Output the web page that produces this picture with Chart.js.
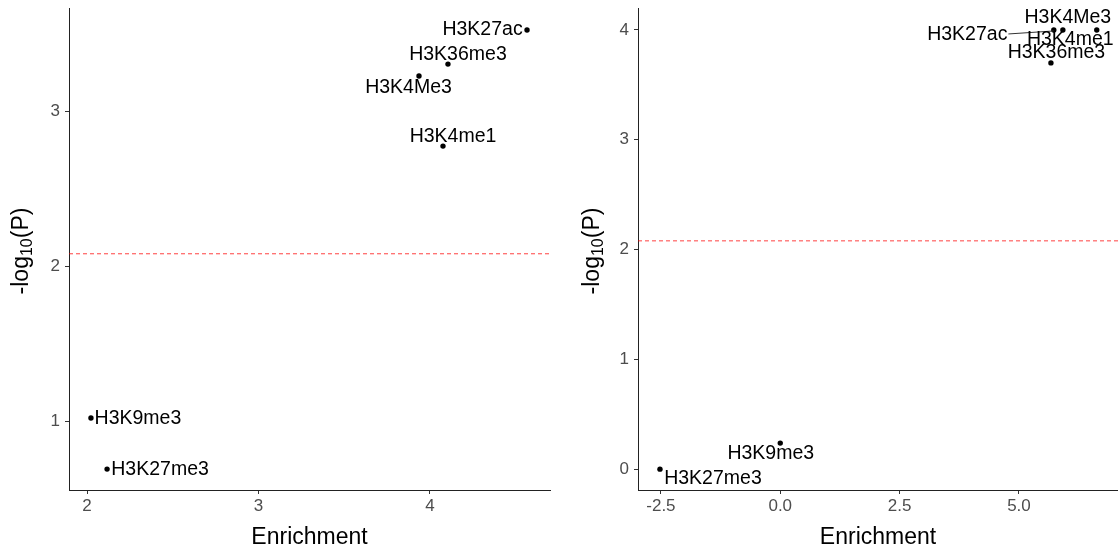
<!DOCTYPE html>
<html><head><meta charset="utf-8">
<script src="https://cdn.jsdelivr.net/npm/chart.js@4/dist/chart.umd.min.js"></script>
<style>
html,body{margin:0;padding:0;background:#fff;overflow:hidden}
#wrap{position:relative;width:1118px;height:548px}
.panel{position:absolute;top:0;width:559px;height:548px}
</style></head><body>
<div id="wrap">
<div class="panel" style="left:0"><canvas id="c1"></canvas></div>
<div class="panel" style="left:559px"><canvas id="c2"></canvas></div>
</div>
<script>
// ---- data ----
const marksLeft  = ['H3K27ac','H3K36me3','H3K4Me3','H3K4me1','H3K9me3','H3K27me3'];
const enrichLeft = [4.566, 4.105, 3.936, 4.076, 2.023, 2.117];
const logPLeft   = [3.523, 3.303, 3.226, 2.774, 1.02, 0.69];

const marksRight  = ['H3K27ac','H3K4Me3','H3K4me1','H3K36me3','H3K9me3','H3K27me3'];
const enrichRight = [5.73, 5.92, 6.63, 5.67, 0.0, -2.52];
const logPRight   = [4.0, 4.0, 4.0, 3.70, 0.237, 0.0];

const xTicksLeft  = [2, 3, 4];
const yTicksLeft  = [1, 2, 3];
const xTicksRight = [-2.5, 0, 2.5, 5];
const yTicksRight = [0, 1, 2, 3, 4];

const threshold = -Math.log10(0.05 / 6);
const xTitle = 'Enrichment';

// ---- styles ----
const FONT = '"Liberation Sans", Arial, Helvetica, sans-serif';
// label offsets (px) of text centre from point: [dx, dy, connector]
const labelOffsetsLeft  = [[-44.5,0],[10,-9],[-10.5,12],[10,-9],[47,1],[53,1]];
const labelOffsetsRight = [[-86.5,5,true],[5,-12],[-26.5,10],[5.5,-10],[-9.5,11],[53,9]];

function annotPlugin(cfg, marks){
  return {
    id:'annot',
    beforeDatasetsDraw(chart){
      const ctx = chart.ctx, a = chart.chartArea, y = chart.scales.y.getPixelForValue(threshold);
      ctx.save();
      ctx.strokeStyle = 'rgba(255,0,0,0.75)';
      ctx.lineWidth = 1;
      ctx.setLineDash([4,3]);
      ctx.beginPath(); ctx.moveTo(a.left, y); ctx.lineTo(a.right, y); ctx.stroke();
      ctx.restore();
    },
    afterDatasetsDraw(chart){
      const ctx = chart.ctx, meta = chart.getDatasetMeta(0);
      ctx.save();
      ctx.font = '19.5px ' + FONT;
      ctx.fillStyle = '#000';
      ctx.textAlign = 'center';
      ctx.textBaseline = 'middle';
      meta.data.forEach((pt, i) => {
        const o = cfg.offsets[i];
        const tx = pt.x + o[0], ty = pt.y + o[1];
        if (o[2]) {
          const w = ctx.measureText(marks[i]).width;
          ctx.strokeStyle = '#333'; ctx.lineWidth = 1;
          ctx.beginPath(); ctx.moveTo(tx + w/2 + 1, ty - 1); ctx.lineTo(pt.x, pt.y + 1); ctx.stroke();
        }
        ctx.fillText(marks[i], tx, ty);
      });
      // x title
      const a = chart.chartArea;
      ctx.font = '23px ' + FONT;
      ctx.textBaseline = 'alphabetic';
      ctx.fillText(xTitle, (a.left + a.right) / 2, 544);
      // y title with subscript
      ctx.save();
      ctx.translate(cfg.yTitleX, (a.top + a.bottom) / 2 + 2);
      ctx.rotate(-Math.PI / 2);
      const p1 = '-log', p2 = '10', p3 = '(P)';
      ctx.font = '23px ' + FONT; const w1 = ctx.measureText(p1).width, w3 = ctx.measureText(p3).width;
      ctx.font = '16px ' + FONT; const w2 = ctx.measureText(p2).width;
      let x = -(w1 + w2 + w3) / 2;
      ctx.textAlign = 'left';
      ctx.font = '23px ' + FONT; ctx.fillText(p1, x, 0); x += w1;
      ctx.font = '16px ' + FONT; ctx.fillText(p2, x, 4); x += w2;
      ctx.font = '23px ' + FONT; ctx.fillText(p3, x, 0);
      ctx.restore();
      ctx.restore();
    }
  };
}

function makeChart(id, marks, xs, ys, cfg){
  const tickFont = {family: FONT, size: 17};
  const grid = {display:true, drawOnChartArea:false, drawTicks:true, tickLength:4, color:'#333', lineWidth:1};
  const border = {display:true, color:'#222', width:1};
  return new Chart(document.getElementById(id), {
    type:'scatter',
    data:{datasets:[{
      data: xs.map((x, i) => ({x: x, y: ys[i]})),
      backgroundColor:'#000', borderColor:'#000', borderWidth:0,
      pointRadius:2.7, pointHoverRadius:2.7, clip:false
    }]},
    options:{
      responsive:true, maintainAspectRatio:false, animation:false, events:[],
      layout:{autoPadding:false, padding:{top:8, right:cfg.padRight, left:0, bottom:0}},
      scales:{
        x:{type:'linear', min:cfg.xMin, max:cfg.xMax,
          afterFit(s){ s.height = 58; s.paddingLeft = 0; s.paddingRight = 0; },
          afterBuildTicks(s){ s.ticks = cfg.xTicks.map(v => ({value:v})); },
          ticks:{callback: cfg.xFmt, color:'#4d4d4d', font:tickFont, padding:2, maxRotation:0, autoSkip:false},
          grid:grid, border:border},
        y:{type:'linear', min:cfg.yMin, max:cfg.yMax,
          afterFit(s){ s.width = cfg.yWidth; s.paddingTop = 0; s.paddingBottom = 0; },
          afterBuildTicks(s){ s.ticks = cfg.yTicks.map(v => ({value:v})); },
          ticks:{callback: v => String(v), color:'#4d4d4d', font:tickFont, padding:5, autoSkip:false},
          grid:grid, border:border}
      },
      plugins:{legend:{display:false}, tooltip:{enabled:false}}
    },
    plugins:[annotPlugin(cfg, marks)]
  });
}

makeChart('c1', marksLeft, enrichLeft, logPLeft, {
  xMin:1.895, xMax:4.70, yMin:0.555, yMax:3.665,
  xTicks:xTicksLeft, yTicks:yTicksLeft, xFmt: v => String(v),
  padRight:9, yWidth:69, yTitleX:28, offsets:labelOffsetsLeft
});
makeChart('c2', marksRight, enrichRight, logPRight, {
  xMin:-2.98, xMax:7.075, yMin:-0.19, yMax:4.2,
  xTicks:xTicksRight, yTicks:yTicksRight, xFmt: v => Number(v).toFixed(1),
  padRight:0, yWidth:79, yTitleX:40, offsets:labelOffsetsRight
});
</script>
</body></html>
